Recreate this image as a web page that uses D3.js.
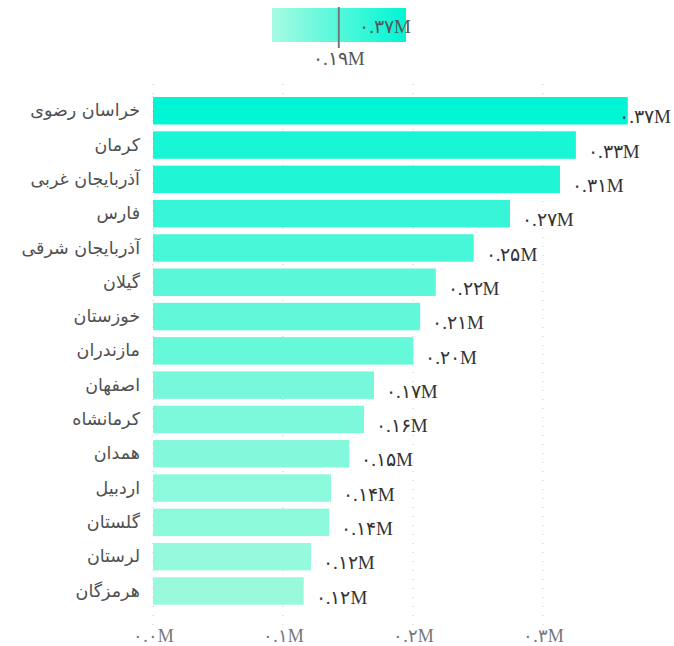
<!DOCTYPE html>
<html>
<head>
<meta charset="utf-8">
<script src="https://cdn.jsdelivr.net/npm/d3@7"></script>
<style>
  html, body { margin: 0; padding: 0; background: #fff; }
  svg { display: block; }
</style>
</head>
<body>
<svg id="chart" width="674" height="646"></svg>
<script>
const provinces = ["خراسان رضوی", "کرمان", "آذربایجان غربی", "فارس", "آذربایجان شرقی", "گیلان", "خوزستان", "مازندران", "اصفهان", "کرمانشاه", "همدان", "اردبیل", "گلستان", "لرستان", "هرمزگان"];
const values = [0.3652, 0.3253, 0.3131, 0.2746, 0.2467, 0.2175, 0.2055, 0.2002, 0.1700, 0.1623, 0.1510, 0.1369, 0.1356, 0.1215, 0.1159];
const xTicks = [0, 0.1, 0.2, 0.3];
const legendMaxValue = 0.37;
const legendMarkerValue = 0.19;

const fa = s => s.replace(/[0-9]/g, d => "۰۱۲۳۴۵۶۷۸۹"[+d]);
const fmt = v => fa(d3.format(".2f")(v)) + "M";
const fmtTick = v => fa(d3.format(".1f")(v)) + "M";

const svg = d3.select("#chart");
const numFont = "'Liberation Serif', 'DejaVu Serif', serif";

const x = d3.scaleLinear().domain([0, 0.1]).range([153, 283]);
const y = d3.scaleBand().domain(provinces).range([93.6, 608.1]).paddingInner(0.2).paddingOuter(0.1);
const lightC = "#98f9dc", darkC = "#00f5d4";
const color = d3.scaleLinear().domain([d3.min(values), d3.max(values)]).range([lightC, darkC]);

// grid
const grid = svg.append("g");
grid.selectAll("line").data(xTicks).join("line")
  .attr("x1", d => x(d)).attr("x2", d => x(d))
  .attr("y1", 84).attr("y2", 625)
  .attr("stroke", "#c8c8c8").attr("stroke-width", 1)
  .attr("stroke-dasharray", "1,8");

// x axis labels
const xAxis = d3.axisBottom(x).tickValues(xTicks).tickFormat(fmtTick).tickSize(0).tickPadding(0);
const ax = svg.append("g").attr("transform", "translate(0,628)").call(xAxis);
ax.select(".domain").remove();
ax.selectAll("text").attr("font-family", numFont).attr("font-size", 18).attr("fill", "#777").attr("dy", "0.75em");

// bars
const data = provinces.map((p, i) => ({p, v: values[i]}));
svg.append("g").selectAll("rect").data(data).join("rect")
  .attr("x", x(0)).attr("y", d => y(d.p))
  .attr("width", d => x(d.v) - x(0)).attr("height", y.bandwidth())
  .attr("fill", d => color(d.v));

// category labels
const yAxis = d3.axisLeft(y).tickSize(0).tickPadding(0);
const ay = svg.append("g").attr("transform", "translate(140,0)").call(yAxis);
ay.select(".domain").remove();
ay.selectAll("text").attr("font-family", "'Segoe UI', 'DejaVu Sans', sans-serif").attr("font-size", 17.5).attr("fill", "#505050").attr("direction", "rtl").attr("text-anchor", "start");

// value labels
const vl = svg.append("g").selectAll("text").data(data).join("text")
  .attr("font-family", numFont).attr("font-size", 19).attr("fill", "#333")
  .attr("y", d => y(d.p) + y.bandwidth() - 1)
  .text(d => fmt(d.v));
vl.each(function(d) {
  const w = this.getComputedTextLength();
  let xx = x(d.v) + 12;
  if (xx + w > 671) xx = 671 - w;
  d3.select(this).attr("x", xx);
});

// legend
const lx0 = 272, lx1 = 406;
const defs = svg.append("defs");
const grad = defs.append("linearGradient").attr("id", "lg").attr("x1", "0%").attr("x2", "100%");
grad.append("stop").attr("offset", "0%").attr("stop-color", "#a6fbe2");
grad.append("stop").attr("offset", "100%").attr("stop-color", darkC);
svg.append("rect").attr("x", lx0).attr("y", 8).attr("width", lx1 - lx0).attr("height", 34).attr("fill", "url(#lg)");
const lScale = d3.scaleLinear().domain([0, legendMaxValue]).range([lx0, lx1]);
const mx = lScale(legendMarkerValue) - 2;
svg.append("line").attr("x1", mx).attr("x2", mx).attr("y1", 7).attr("y2", 48).attr("stroke", "#777").attr("stroke-width", 2);
svg.append("text").attr("x", 411).attr("y", 33).attr("text-anchor", "end")
  .attr("font-family", numFont).attr("font-size", 19).attr("fill", "#555").text(fmt(legendMaxValue));
svg.append("text").attr("x", mx).attr("y", 65).attr("text-anchor", "middle")
  .attr("font-family", numFont).attr("font-size", 19).attr("fill", "#555").text(fmt(legendMarkerValue));
</script>
</body>
</html>
